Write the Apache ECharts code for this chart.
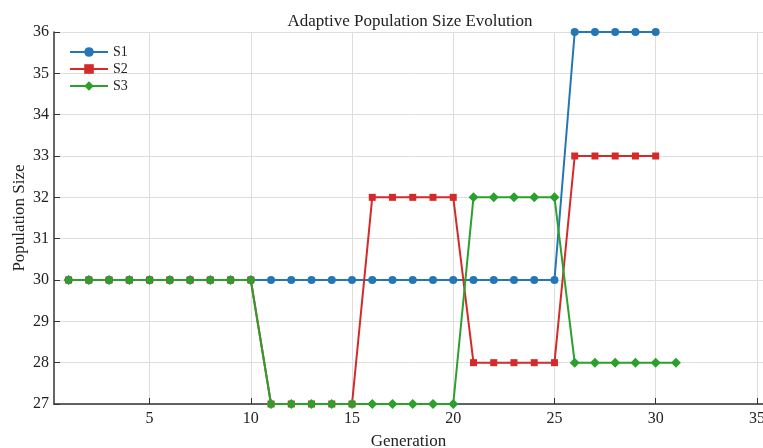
<!DOCTYPE html>
<html><head><meta charset="utf-8">
<script src="https://cdn.jsdelivr.net/npm/echarts@6/dist/echarts.min.js"></script>
<style>html,body{margin:0;padding:0;background:#fff}#c{width:763px;height:448px}</style>
</head><body><div id="c"></div>
<script>
const generationsS1 = [1,2,3,4,5,6,7,8,9,10,11,12,13,14,15,16,17,18,19,20,21,22,23,24,25,26,27,28,29,30];
const valuesS1 = [30,30,30,30,30,30,30,30,30,30,30,30,30,30,30,30,30,30,30,30,30,30,30,30,30,36,36,36,36,36];
const generationsS2 = [1,2,3,4,5,6,7,8,9,10,11,12,13,14,15,16,17,18,19,20,21,22,23,24,25,26,27,28,29,30];
const valuesS2 = [30,30,30,30,30,30,30,30,30,30,27,27,27,27,27,32,32,32,32,32,28,28,28,28,28,33,33,33,33,33];
const generationsS3 = [1,2,3,4,5,6,7,8,9,10,11,12,13,14,15,16,17,18,19,20,21,22,23,24,25,26,27,28,29,30,31];
const valuesS3 = [30,30,30,30,30,30,30,30,30,30,27,27,27,27,27,27,27,27,27,27,32,32,32,32,32,28,28,28,28,28,28];
const xTicks = [5,10,15,20,25,30,35];
const seriesNames = ['S1','S2','S3'];

const font = 'Liberation Serif';
const colors = ['#2476b4','#d42a2a','#2ca02c'];
const symbols = ['circle','rect','diamond'];
const symSizes = [8,7,10];
const gens = [generationsS1, generationsS2, generationsS3];
const vals = [valuesS1, valuesS2, valuesS3];

const chart = echarts.init(document.getElementById('c'));
chart.setOption({
  animation: false,
  backgroundColor: '#fff',
  title: {text: 'Adaptive Population Size Evolution', left: 405, top: 8, textAlign: 'center',
    textStyle: {fontFamily: font, fontSize: 17, fontWeight: 'normal', color: '#222'}},
  legend: {left: 64, top: 40, orient: 'vertical', itemGap: 3, itemWidth: 38, itemHeight: 12,
    textStyle: {fontFamily: font, fontSize: 14, color: '#222'},
    data: seriesNames},
  grid: {left: 54, right: 0, top: 32, bottom: 44, containLabel: false, outerBoundsMode: 'none'},
  xAxis: {type: 'value', min: 0.28, max: 35.3, name: 'Generation', nameLocation: 'middle', nameGap: 29,
    nameMoveOverlap: false,
    nameTextStyle: {fontFamily: font, fontSize: 17, color: '#222'},
    axisLine: {lineStyle: {color: '#333', width: 1.5}},
    axisTick: {inside: true, length: 6, customValues: xTicks, lineStyle: {color: '#333'}},
    axisLabel: {customValues: xTicks, fontFamily: font, fontSize: 16, color: '#222', margin: 7},
    splitLine: {show: true, lineStyle: {color: '#dedede', width: 1}}},
  yAxis: {type: 'value', min: 27, max: 36, interval: 1, name: 'Population Size', nameLocation: 'middle', nameGap: 26,
    nameMoveOverlap: false,
    nameTextStyle: {fontFamily: font, fontSize: 17, color: '#222'},
    axisLine: {show: true, lineStyle: {color: '#333', width: 1.5}},
    axisTick: {show: true, inside: true, length: 6, lineStyle: {color: '#333'}},
    axisLabel: {fontFamily: font, fontSize: 16, color: '#222', margin: 5},
    splitLine: {show: true, lineStyle: {color: '#dedede', width: 1}}},
  series: seriesNames.map((n, i) => ({
    name: n, type: 'line', data: gens[i].map((g, j) => [g, vals[i][j]]),
    symbol: symbols[i], symbolSize: symSizes[i], showSymbol: true,
    lineStyle: {color: colors[i], width: 2}, itemStyle: {color: colors[i]},
    z: 2 + i
  }))
});
</script></body></html>
